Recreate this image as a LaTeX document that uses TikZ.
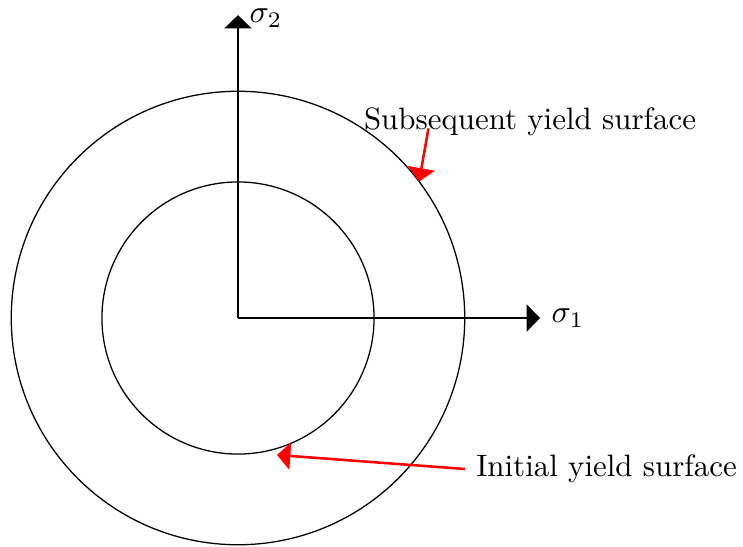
\documentclass[tikz,border=0pt]{standalone}
\usepackage{amsmath}
\usepackage{tikz}
\usetikzlibrary{arrows.meta}

\begin{document}
\begin{tikzpicture}[
		>={Triangle[width=8.5pt,length=4.2pt]},
		axis/.style={->,semithick},
		surface/.style={thin},
		pointer/.style={->,red,thick},
		every node/.style={
			font=\fontsize{9.7pt}{11.6pt}\selectfont,
			align=center
		}
		]
		
		\useasboundingbox (-2.624,-2.514) rectangle (5.568,3.506);
		
		%--------------------------------------------------
		% Yield surfaces
		%--------------------------------------------------
		
		\coordinate (o) at (0,0);
		\draw[surface] (o) circle (1.5);
		\draw[surface] (o) circle (2.5);
		
		%--------------------------------------------------
		% Axes
		%--------------------------------------------------
		
		\coordinate (x1) at (3.33,0);
		\coordinate (x2) at (0,3.34);
		\draw[axis] (o) -- (x1) node[right] (s1) {$\sigma_1$};
		\draw[axis] (o) -- (x2) node[right,yshift=-1pt] (s2) {$\sigma_2$};
		
		%--------------------------------------------------
		% Labels
		%--------------------------------------------------
		
		\node (sub) [anchor=base] at (3.22,2.073) {Subsequent yield surface};
		\node (init) [anchor=west] at (2.503,-1.665) {Initial yield surface};
		
		\coordinate (subfrom) at (2.1,2.09);
		\coordinate (subtip) at (37:2.5);
		\coordinate (inittip) at (0.43,-1.51);
		
		\draw[pointer] (subfrom) -- (subtip);
		\draw[pointer] (init.west) -- (inittip);
		
	\end{tikzpicture}
\end{document}
